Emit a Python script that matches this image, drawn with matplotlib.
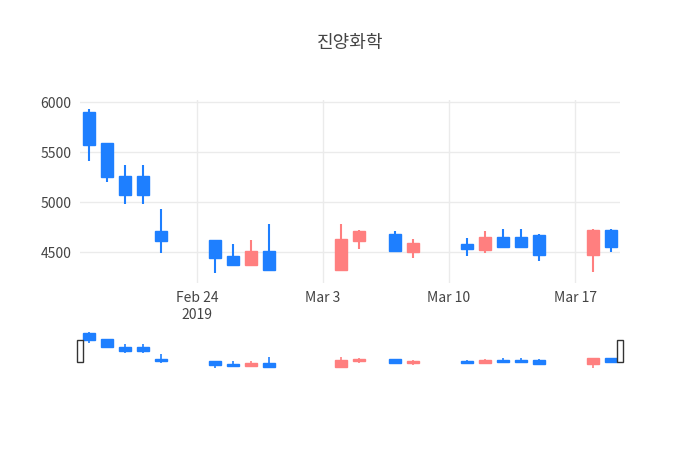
import matplotlib
matplotlib.use("Agg")
import matplotlib.pyplot as plt
import matplotlib.dates as mdates
import numpy as np
import datetime as dt
from matplotlib.patches import Rectangle

plt.rcParams['font.family'] = ['Noto Sans CJK KR', 'DejaVu Sans']

dates = ["2019-02-18","2019-02-19","2019-02-20","2019-02-21","2019-02-22","2019-02-25","2019-02-26",
         "2019-02-27","2019-02-28","2019-03-04","2019-03-05","2019-03-07","2019-03-08","2019-03-11",
         "2019-03-12","2019-03-13","2019-03-14","2019-03-15","2019-03-18","2019-03-19"]
opens  = [5900,5590,5260,5260,4710,4620,4460,4370,4510,4320,4610,4680,4500,4580,4520,4650,4650,4670,4470,4720]
highs  = [5930,5590,5370,5370,4930,4620,4580,4620,4780,4780,4720,4710,4630,4640,4710,4730,4730,4680,4730,4730]
lows   = [5410,5200,4980,4980,4490,4290,4360,4360,4310,4310,4530,4500,4440,4460,4490,4540,4540,4410,4300,4500]
closes = [5570,5250,5070,5070,4610,4440,4370,4510,4320,4630,4710,4510,4590,4530,4650,4550,4550,4470,4720,4550]

UP, DOWN = "#FF7F7F", "#1E7FFF"
x = mdates.date2num([dt.datetime.strptime(d, "%Y-%m-%d") for d in dates])

fig = plt.figure(figsize=(7, 4.5), dpi=100)
fig.text(0.5, 1 - 43/450, "진양화학", ha="center", va="center", fontsize=13, color="#444")
ax = fig.add_axes([80/700, 1-283/450, 540/700, 183/450])
sl = fig.add_axes([80/700, 1-370/450, 540/700, 40/450])

def draw(a, lw):
    for xi, o, h, l, c in zip(x, opens, highs, lows, closes):
        col = UP if c >= o else DOWN
        a.vlines(xi, l, h, color=col, lw=lw, zorder=2)
        a.add_patch(Rectangle((xi-0.33, min(o, c)), 0.66, max(abs(c-o), 5), color=col, zorder=3))

draw(ax, 1.5)
draw(sl, 1.2)
xmin = mdates.date2num(dt.datetime(2019, 2, 17, 12))
xmax = mdates.date2num(dt.datetime(2019, 3, 19, 12))
for a in (ax, sl):
    a.set_xlim(xmin, xmax)
ax.set_ylim(4190, 6020)
sl.set_ylim(4190, 6020)
ax.set_yticks([4500, 5000, 5500, 6000])
ticks = [mdates.date2num(dt.datetime(2019, m, d)) for m, d in [(2, 24), (3, 3), (3, 10), (3, 17)]]
ax.set_xticks(ticks)
ax.set_xticklabels(["Feb 24\n2019", "Mar 3", "Mar 10", "Mar 17"])
ax.grid(True, color="#EBEBEB", lw=1)
ax.set_axisbelow(True)
for s in ax.spines.values():
    s.set_visible(False)
ax.tick_params(length=0, colors="#444", labelsize=10, pad=6)
sl.set_xticks([]); sl.set_yticks([])
for s in sl.spines.values():
    s.set_visible(False)
for hx in (xmin, xmax):
    sl.add_patch(Rectangle((hx-0.15, 4190+1830*0.2), 0.3, 1830*0.55, facecolor="white",
                           edgecolor="#333", lw=1, clip_on=False, zorder=5))
fig.savefig("out.png", dpi=100, facecolor="white")
